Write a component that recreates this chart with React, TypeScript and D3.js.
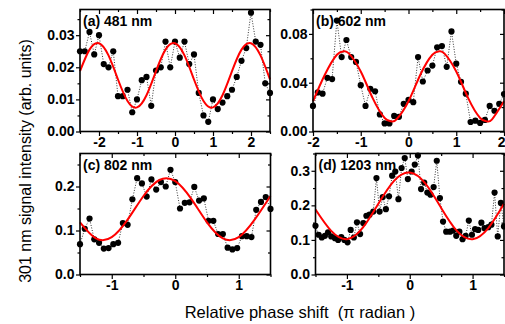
import React, { useEffect, useRef } from "react";
import * as d3 from "d3";

// (a) 481 nm
const phaseA = [-2.5, -2.375, -2.25, -2.125, -2, -1.875, -1.75, -1.625, -1.5, -1.375, -1.25, -1.125, -1, -0.875, -0.75, -0.625, -0.5, -0.375, -0.25, -0.125, 0, 0.125, 0.25, 0.375, 0.5, 0.625, 0.75, 0.875, 1, 1.125, 1.25, 1.375, 1.5, 1.625, 1.75, 1.875, 2, 2.125, 2.25, 2.375, 2.5];
const signalA = [0.025, 0.025, 0.031, 0.024, 0.030, 0.021, 0.020, 0.025, 0.011, 0.011, 0.013, 0.006, 0.010, 0.016, 0.017, 0.008, 0.019, 0.020, 0.028, 0.020, 0.028, 0.023, 0.028, 0.021, 0.024, 0.012, 0.005, 0.003, 0.010, 0.007, 0.009, 0.011, 0.013, 0.017, 0.022, 0.026, 0.037, 0.028, 0.027, 0.015, 0.012];
const fitPhaseA = [-2.5, -2.25, -2, -1.75, -1.5, -1.25, -1, -0.75, -0.5, -0.25, 0, 0.25, 0.5, 0.75, 1, 1.25, 1.5, 1.75, 2, 2.25, 2.5];
const fitA = [0.0188, 0.0255, 0.0275, 0.0237, 0.0162, 0.0095, 0.0075, 0.0113, 0.0188, 0.0255, 0.0275, 0.0237, 0.0162, 0.0095, 0.0075, 0.0113, 0.0188, 0.0255, 0.0275, 0.0237, 0.0162];

// (b) 602 nm
const phaseB = [-2, -1.9, -1.8, -1.7, -1.6, -1.5, -1.4, -1.3, -1.2, -1.1, -1, -0.9, -0.8, -0.7, -0.6, -0.5, -0.4, -0.3, -0.2, -0.1, 0, 0.1, 0.2, 0.3, 0.4, 0.5, 0.6, 0.7, 0.8, 0.9, 1, 1.1, 1.2, 1.3, 1.4, 1.5, 1.6, 1.7, 1.8, 1.9, 2];
const signalB = [0.021, 0.032, 0.031, 0.044, 0.043, 0.091, 0.061, 0.075, 0.061, 0.057, 0.038, 0.021, 0.035, 0.033, 0.014, 0.0066, 0.0066, 0.0128, 0.012, 0.0227, 0.026, 0.024, 0.061, 0.041, 0.050, 0.054, 0.069, 0.070, 0.053, 0.082, 0.0556, 0.0407, 0.031, 0.0078, 0.0089, 0.007, 0.0095, 0.021, 0.017, 0.0227, 0.0307];
const fitPhaseB = [-2, -1.75, -1.5, -1.36, -1.25, -1, -0.75, -0.5, -0.36, -0.25, 0, 0.25, 0.5, 0.64, 0.75, 1, 1.25, 1.5, 1.64, 1.75, 2];
const fitB = [0.0248, 0.0467, 0.0629, 0.0657, 0.0640, 0.0492, 0.0273, 0.0111, 0.0083, 0.0100, 0.0248, 0.0467, 0.0629, 0.0657, 0.0640, 0.0492, 0.0273, 0.0111, 0.0083, 0.0100, 0.0248];

// (c) 802 nm
const phaseC = [-1.5, -1.425, -1.35, -1.275, -1.2, -1.125, -1.05, -0.975, -0.9, -0.825, -0.75, -0.675, -0.6, -0.525, -0.45, -0.375, -0.3, -0.225, -0.15, -0.075, 0, 0.075, 0.15, 0.225, 0.3, 0.375, 0.45, 0.525, 0.6, 0.675, 0.75, 0.825, 0.9, 0.975, 1.05, 1.125, 1.2, 1.275, 1.35, 1.425, 1.5];
const signalC = [0.069, 0.104, 0.127, 0.080, 0.072, 0.059, 0.060, 0.069, 0.072, 0.117, 0.113, 0.171, 0.219, 0.207, 0.177, 0.216, 0.193, 0.210, 0.200, 0.238, 0.210, 0.150, 0.163, 0.164, 0.199, 0.168, 0.173, 0.122, 0.122, 0.092, 0.092, 0.061, 0.057, 0.060, 0.087, 0.087, 0.085, 0.147, 0.165, 0.176, 0.149];
const fitPhaseC = [-1.5, -1.25, -1, -0.75, -0.5, -0.25, 0, 0.25, 0.5, 0.75, 1, 1.25, 1.5];
const fitC = [0.1185, 0.0822, 0.0848, 0.1246, 0.1785, 0.2148, 0.2122, 0.1724, 0.1185, 0.0822, 0.0848, 0.1246, 0.1785];

// (d) 1203 nm
const phaseD = [-1.5, -1.45, -1.4, -1.35, -1.3, -1.25, -1.19, -1.14, -1.09, -1.04, -0.99, -0.94, -0.89, -0.84, -0.79, -0.74, -0.69, -0.64, -0.58, -0.53, -0.48, -0.43, -0.38, -0.33, -0.28, -0.23, -0.18, -0.13, -0.08, -0.03, 0.03, 0.08, 0.13, 0.18, 0.23, 0.28, 0.33, 0.38, 0.43, 0.48, 0.53, 0.58, 0.64, 0.69, 0.74, 0.79, 0.84, 0.89, 0.94, 0.99, 1.04, 1.09, 1.14, 1.19, 1.25, 1.3, 1.35, 1.4, 1.45, 1.5];
const signalD = [0.141, 0.115, 0.107, 0.112, 0.122, 0.110, 0.105, 0.100, 0.108, 0.100, 0.093, 0.129, 0.107, 0.151, 0.117, 0.149, 0.170, 0.173, 0.182, 0.279, 0.182, 0.224, 0.189, 0.226, 0.286, 0.298, 0.218, 0.308, 0.337, 0.276, 0.298, 0.318, 0.344, 0.247, 0.266, 0.237, 0.231, 0.253, 0.329, 0.221, 0.153, 0.124, 0.124, 0.127, 0.112, 0.124, 0.102, 0.112, 0.156, 0.115, 0.131, 0.129, 0.150, 0.134, 0.137, 0.144, 0.237, 0.110, 0.207, 0.139];
const fitPhaseD = [-1.5, -1.25, -1, -0.75, -0.5, -0.25, 0, 0.25, 0.5, 0.75, 1, 1.25, 1.5];
const fitD = [0.188, 0.1261, 0.1022, 0.1347, 0.2046, 0.2709, 0.2948, 0.2626, 0.1924, 0.1261, 0.1022, 0.1344, 0.2046];

const labels = ["(a) 481 nm", "(b) 602 nm", "(c) 802 nm", "(d) 1203 nm"];
const xTitle = "Relative phase shift  (\u03c0 radian )";
const yTitle = "301 nm signal intensity (arb. units)";

const FONT = "'Liberation Sans', Arial, Helvetica, sans-serif";
const W = 505;

const panels = [
  {
    label: labels[0], phase: phaseA, signal: signalA, fitPhase: fitPhaseA, fit: fitA,
    xDomain: [-2.5, 2.5], yDomain: [0, 0.038],
    xTicks: [-2, -1, 0, 1, 2], xMinor: [-2.5, -1.5, -0.5, 0.5, 1.5, 2.5],
    yTicks: [0, 0.01, 0.02, 0.03], yMinor: [0.005, 0.015, 0.025, 0.035], yFmt: ".2f",
    box: { left: 80, right: 270, top: 9.5, bottom: 131.5 },
  },
  {
    label: labels[1], phase: phaseB, signal: signalB, fitPhase: fitPhaseB, fit: fitB,
    xDomain: [-2, 2], yDomain: [0, 0.1],
    xTicks: [-2, -1, 0, 1, 2], xMinor: [-1.5, -0.5, 0.5, 1.5],
    yTicks: [0, 0.04, 0.08], yMinor: [0.02, 0.06, 0.1], yFmt: ".2f",
    box: { left: 313, right: 504, top: 9.5, bottom: 131.5 },
  },
  {
    label: labels[2], phase: phaseC, signal: signalC, fitPhase: fitPhaseC, fit: fitC,
    xDomain: [-1.5, 1.5], yDomain: [0, 0.275],
    xTicks: [-1, 0, 1], xMinor: [-1.5, -0.5, 0.5, 1.5],
    yTicks: [0, 0.1, 0.2], yMinor: [0.05, 0.15, 0.25], yFmt: ".1f",
    box: { left: 80, right: 270.5, top: 153.5, bottom: 274.5 },
  },
  {
    label: labels[3], phase: phaseD, signal: signalD, fitPhase: fitPhaseD, fit: fitD,
    xDomain: [-1.5, 1.5], yDomain: [0, 0.35],
    xTicks: [-1, 0, 1], xMinor: [-1.5, -0.5, 0.5, 1.5],
    yTicks: [0, 0.1, 0.2, 0.3], yMinor: [0.05, 0.15, 0.25, 0.35], yFmt: ".1f",
    box: { left: 315.5, right: 504, top: 153.5, bottom: 274.5 },
  },
];

const App = () => {
  const svgRef = useRef<SVGSVGElement>(null);

  useEffect(() => {
    const svg = d3.select(svgRef.current);
    svg.selectAll("*").remove();

    panels.forEach((p) => {
      const b = p.box;
      const x = d3.scaleLinear().domain(p.xDomain).range([b.left, b.right]);
      const y = d3.scaleLinear().domain(p.yDomain).range([b.bottom, b.top]);
      const g = svg.append("g");

      // axes: outward ticks on left/bottom, inward mirror on top/right
      const styleAxis = (sel: any) => {
        sel.select(".domain").remove();
        sel.selectAll(".tick line").attr("stroke", "#000").attr("stroke-width", 1.2);
        sel.selectAll("text")
          .attr("fill", "#000")
          .style("font-family", FONT)
          .style("font-size", "14px")
          .style("font-weight", "bold");
      };

      const bottom = g.append("g").attr("transform", `translate(0,${b.bottom})`)
        .call(d3.axisBottom(x).tickValues(p.xTicks).tickSize(4.5).tickPadding(1.5).tickFormat((d: any) => String(d)))
        .call(styleAxis);
      // last label at the page edge: keep it inside the window
      bottom.selectAll(".tick").each(function (d: any) {
        if (x(d) + 4 > W) d3.select(this).select("text").attr("text-anchor", "end").attr("x", W - x(d));
      });
      g.append("g").attr("transform", `translate(0,${b.bottom})`)
        .call(d3.axisBottom(x).tickValues(p.xMinor).tickSize(2.5).tickFormat(() => ""))
        .call(styleAxis);
      g.append("g").attr("transform", `translate(0,${b.top})`)
        .call(d3.axisTop(x).tickValues(p.xTicks).tickSize(-4.5).tickFormat(() => ""))
        .call(styleAxis);
      g.append("g").attr("transform", `translate(0,${b.top})`)
        .call(d3.axisTop(x).tickValues(p.xMinor).tickSize(-2.5).tickFormat(() => ""))
        .call(styleAxis);

      g.append("g").attr("transform", `translate(${b.left},0)`)
        .call(d3.axisLeft(y).tickValues(p.yTicks).tickSize(4).tickPadding(1.5).tickFormat(d3.format(p.yFmt) as any))
        .call(styleAxis);
      g.append("g").attr("transform", `translate(${b.left},0)`)
        .call(d3.axisLeft(y).tickValues(p.yMinor).tickSize(2.5).tickFormat(() => ""))
        .call(styleAxis);
      g.append("g").attr("transform", `translate(${b.right},0)`)
        .call(d3.axisRight(y).tickValues(p.yTicks).tickSize(-4).tickFormat(() => ""))
        .call(styleAxis);
      g.append("g").attr("transform", `translate(${b.right},0)`)
        .call(d3.axisRight(y).tickValues(p.yMinor).tickSize(-2.5).tickFormat(() => ""))
        .call(styleAxis);

      // dotted connection between data points
      const pts = p.phase.map((v, i) => [v, p.signal[i]] as [number, number]);
      const dotLine = d3.line<[number, number]>().x((d) => x(d[0])).y((d) => y(d[1]));
      g.append("path")
        .attr("d", dotLine(pts))
        .attr("fill", "none")
        .attr("stroke", "#000")
        .attr("stroke-width", 0.8)
        .attr("stroke-dasharray", "1,1.6");

      g.selectAll("circle.pt")
        .data(pts)
        .join("circle")
        .attr("class", "pt")
        .attr("cx", (d) => x(d[0]))
        .attr("cy", (d) => y(d[1]))
        .attr("r", 3.1)
        .attr("fill", "#000");

      // red fit
      const fitPts = p.fitPhase.map((v, i) => [v, p.fit[i]] as [number, number]);
      const fitLine = d3.line<[number, number]>().x((d) => x(d[0])).y((d) => y(d[1])).curve(d3.curveNatural);
      g.append("path")
        .attr("d", fitLine(fitPts))
        .attr("fill", "none")
        .attr("stroke", "#ff0000")
        .attr("stroke-width", 2);

      // frame
      g.append("rect")
        .attr("x", b.left)
        .attr("y", b.top)
        .attr("width", b.right - b.left)
        .attr("height", b.bottom - b.top)
        .attr("fill", "none")
        .attr("stroke", "#000")
        .attr("stroke-width", 1.6);

      g.append("text")
        .attr("x", b.left + 3)
        .attr("y", b.top + 16.5)
        .attr("fill", "#000")
        .style("font-family", FONT)
        .style("font-size", "14px")
        .style("font-weight", "bold")
        .text(p.label);
    });

    svg.append("text")
      .attr("x", 300)
      .attr("y", 318)
      .attr("text-anchor", "middle")
      .attr("fill", "#000")
      .style("font-family", FONT)
      .style("font-size", "16.5px")
      .style("white-space", "pre")
      .text(xTitle);

    svg.append("text")
      .attr("transform", "translate(31,161) rotate(-90)")
      .attr("text-anchor", "middle")
      .attr("fill", "#000")
      .style("font-family", FONT)
      .style("font-size", "16px")
      .text(yTitle);
  }, []);

  return (
    <svg
      ref={svgRef}
      width={W}
      height={324}
      style={{ position: "absolute", left: 0, top: 0, background: "#fff" }}
    />
  );
};

export default App;
